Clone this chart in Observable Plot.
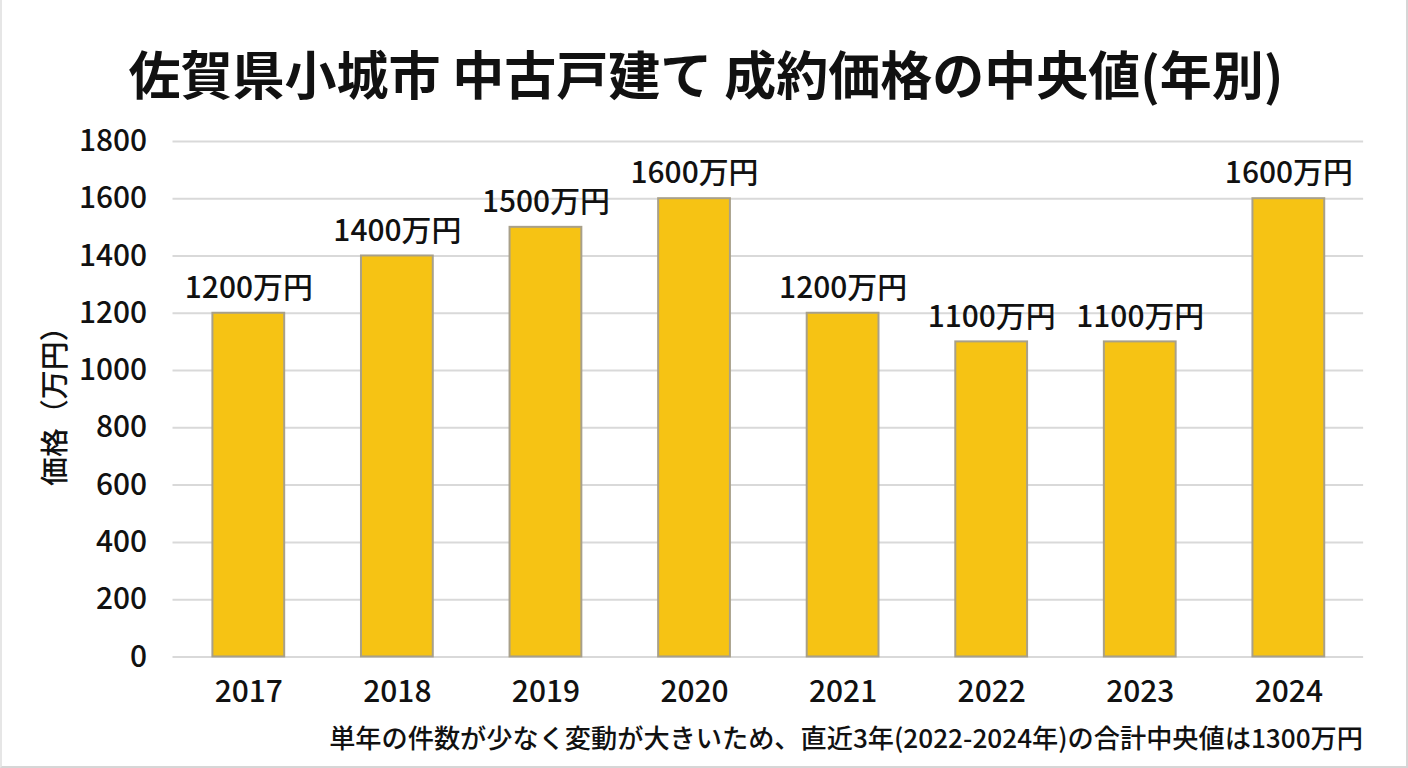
<!DOCTYPE html>
<html><head><meta charset="utf-8">
<script src="https://cdn.jsdelivr.net/npm/d3@7"></script>
<script src="https://cdn.jsdelivr.net/npm/@observablehq/plot@0.6"></script>
<style>
html,body{margin:0;padding:0;background:#fff;}
#wrap{position:relative;width:1408px;height:768px;box-sizing:border-box;border-right:2px solid #d6d6d6;border-bottom:2px solid #d6d6d6;border-left:2px solid #e6e6e6;overflow:hidden;font-family:"Noto Sans CJK JP","Noto Sans",sans-serif;}
#title{position:absolute;left:0;width:1408px;top:38px;text-align:center;font-size:52px;font-weight:700;line-height:70px;color:#111;}
#chart{position:absolute;left:0;top:110px;}
#caption{position:absolute;right:43px;top:719px;font-size:26.2px;font-weight:500;line-height:36px;color:#111;white-space:nowrap;}
svg text{font-weight:500;}
</style></head>
<body>
<div id="wrap">
<div id="title"></div>
<div id="chart"></div>
<div id="caption"></div>
</div>
<script>
const titleText = "佐賀県小城市 中古戸建て 成約価格の中央値(年別)";
const captionText = "単年の件数が少なく変動が大きいため、直近3年(2022-2024年)の合計中央値は1300万円";
const yLabel = "価格（万円）";
const years = ["2017","2018","2019","2020","2021","2022","2023","2024"];
const prices = [1200,1400,1500,1600,1200,1100,1100,1600];
const yTicks = [0,200,400,600,800,1000,1200,1400,1600,1800];

document.getElementById("title").textContent = titleText;
document.getElementById("caption").textContent = captionText;

const data = years.map((y,i)=>({year:y, price:prices[i]}));
const font = '"Noto Sans CJK JP","Noto Sans",sans-serif';

const chart = Plot.plot({
  width: 1408,
  height: 610,
  marginTop: 31,
  marginBottom: 62,
  marginLeft: 171,
  marginRight: 43,
  style: {fontFamily: font, fontSize: "30px", color: "#111", background: "transparent"},
  x: {domain: years, paddingInner: 0.52, paddingOuter: 0.26, label: null},
  y: {domain: [0,1800], label: null},
  marks: [
    Plot.gridY(yTicks, {stroke: "#d9d9d9", strokeOpacity: 1, strokeWidth: 2}),
    Plot.axisY(yTicks, {tickSize: 0, tickPadding: 26, fontSize: 30, tickFormat: d => String(d), label: null}),
    Plot.axisX({tickSize: 0, tickPadding: 24, fontSize: 30, label: null}),
    Plot.barY(data, {x: "year", y: "price", fill: "#F6C314", stroke: "#a8a08a", strokeWidth: 2}),
    Plot.text(data, {x: "year", y: "price", text: d => d.price + "万円", dy: -25, fontSize: 30, fill: "#111"}),
    Plot.text([yLabel], {frameAnchor: "left", textAnchor: "middle", lineAnchor: "middle", rotate: -90, dx: -118, fontSize: 29, fill: "#111"})
  ]
});
document.getElementById("chart").appendChild(chart);
</script>
</body></html>
